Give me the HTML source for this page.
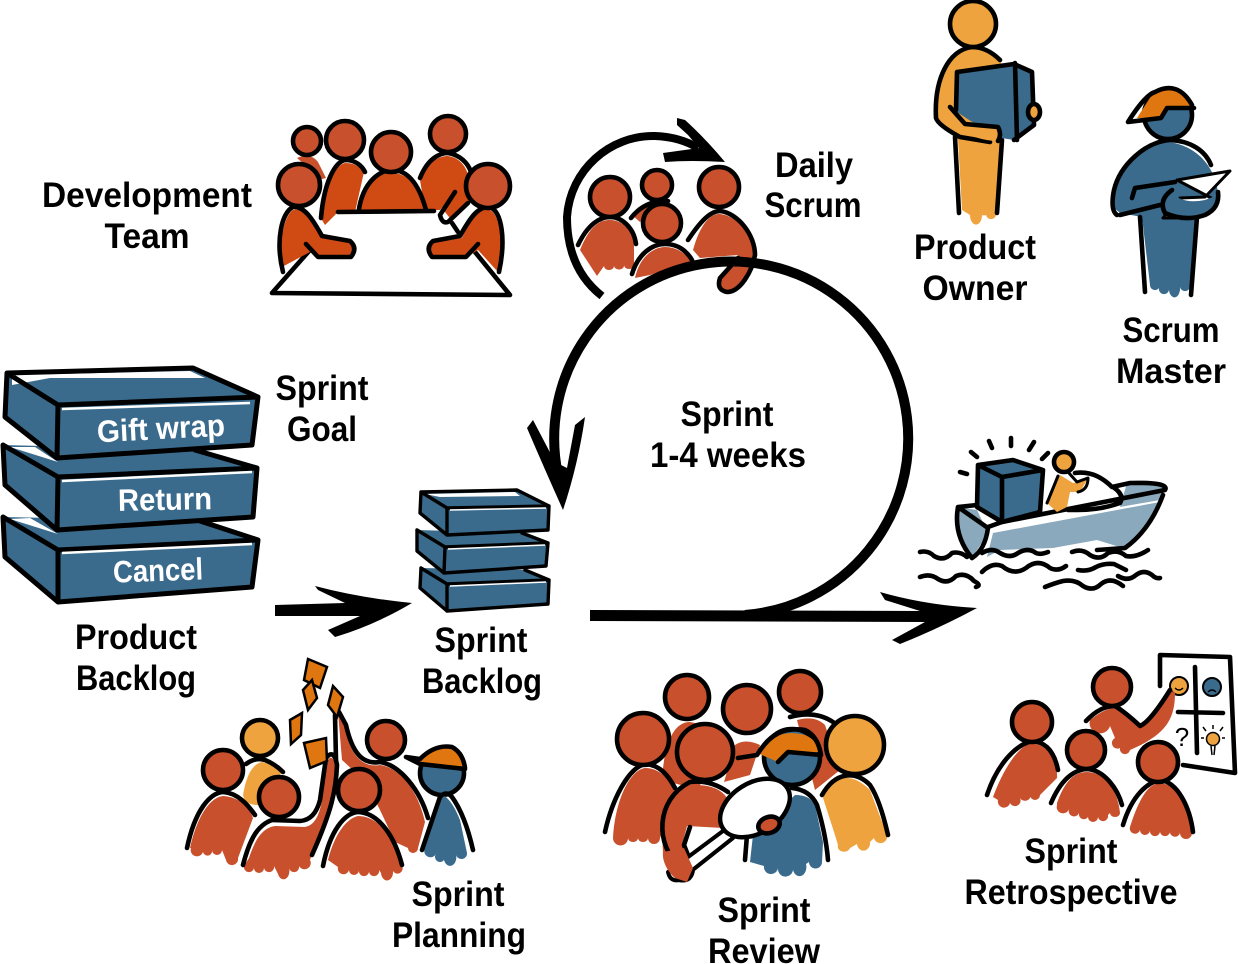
<!DOCTYPE html>
<html><head><meta charset="utf-8"><style>
html,body{margin:0;padding:0;background:#fff}
svg{display:block}
.k{fill:none;stroke:#000;stroke-width:4.6;stroke-linecap:round;stroke-linejoin:round}
.h{stroke:#000;stroke-width:4.6}
.r{fill:#c8502c}.d{fill:#d04a14}.o{fill:#eea33e}.b{fill:#3a6b8c}.c{fill:#e0760f}
.bx{fill:#3a6b8c}
.be{fill:none;stroke:#000;stroke-width:5;stroke-linejoin:round;stroke-linecap:round}
.bs{fill:none;stroke:#000;stroke-width:3.4;stroke-linejoin:round;stroke-linecap:round}
.wl{fill:none;stroke:#fff;stroke-width:2.5}
text{font-family:"Liberation Sans",sans-serif;font-weight:700;font-size:35px;fill:#000;text-anchor:middle}
.w{fill:#fff;font-size:31px}
</style></head><body>
<svg width="1238" height="964" viewBox="0 0 1238 964" xmlns="http://www.w3.org/2000/svg">

<!-- Development team -->
<path class="r" d="M297,158 Q310,152 318,162 L326,178 L318,180 L305,165Z"/>
<circle class="r h" cx="307" cy="141" r="14"/>
<path class="d" d="M322,220 C325,185 335,165 345,163 C358,163 362,170 364,172 L355,212 L337,213 L325,225Z"/>
<path class="k" d="M321,218 C324,182 335,162 345,160 C356,160 362,166 365,172"/>
<circle class="r h" cx="345" cy="140" r="19"/>
<path class="d" d="M420,180 C428,160 440,156 448,156 C462,158 470,170 470,190 L468,205 L448,220 L438,215 L455,192 L440,210 L425,210Z"/>
<path class="k" d="M420,178 C428,158 440,153 448,153 C460,155 468,163 471,172"/>
<circle class="r h" cx="448" cy="134" r="18"/>
<path class="d" d="M358,207 C365,180 380,172 392,173 C410,173 420,190 425,210 L375,211 L385,226 Q385,235 375,234 Q362,230 358,220Z"/>
<path class="k" d="M375,212 L385,226 Q385,236 374,234 Q360,230 358,218 C360,185 378,170 392,170 C410,170 420,188 426,210"/>
<circle class="r h" cx="391" cy="152" r="20"/>
<polygon points="272,293 340,212 445,212 510,293" fill="#fff"/>
<path class="k" d="M338,212 L434,211M272,293 L510,295M272,293 L310,250M510,295 L475,252M452,223 L458,232"/>
<path class="k" d="M440,215 L455,192 M440,215 Q442,224 448,222 L468,203"/>
<path class="d" d="M282,267 C278,240 285,215 293,210 C302,208 310,215 322,238 L350,243 Q355,250 350,255 L315,255 L310,252Z"/>
<path class="k" d="M283,272 C275,240 282,212 293,207 C304,206 312,218 322,236 L350,241 Q358,248 351,257 L318,257 L306,244"/>
<circle class="r h" cx="299" cy="185" r="21"/>
<path class="d" d="M498,272 C505,245 500,215 490,210 C478,208 470,220 462,238 L432,243 Q428,250 433,255 L470,255 L478,250Z"/>
<path class="k" d="M499,272 C506,240 502,212 490,207 C478,206 470,218 460,236 L433,241 Q425,248 432,257 L466,257 L478,244"/>
<circle class="r h" cx="488" cy="186" r="22"/>

<!-- Daily Scrum -->
<path class="r" d="M632,215 Q645,200 665,202 L655,212 L640,222Z"/>
<path class="k" d="M631,218 Q645,200 668,201"/>
<circle class="r h" cx="657" cy="185" r="15"/>
<path class="r" d="M580,250 C590,225 600,220 610,220 C625,220 635,235 634,245 L634,265 a5,4 0 0 1 -10,0 a5,4 0 0 1 -10,1 a5,4 0 0 1 -10,0 L597,276Z"/>
<path class="k" d="M578,245 C588,224 600,217 610,217 C622,217 634,228 636,244"/>
<circle class="r h" cx="610" cy="197" r="20"/>
<path class="r" d="M635,278 C640,255 655,247 665,247 C675,247 685,252 692,262 L650,275Z"/>
<path class="k" d="M632,274 C638,254 652,244 665,244 C677,244 686,250 692,260"/>
<circle class="r h" cx="662" cy="223" r="19"/>
<path class="r" d="M693,250 C700,225 710,213 720,214 C738,216 753,235 753,255 C750,270 740,290 727,290 Q718,288 720,280 L738,255 L700,258Z"/>
<path class="k" d="M688,240 C700,222 710,211 720,211 C738,213 755,235 755,255 C752,272 740,292 727,292 Q716,290 720,278 L738,258"/>
<circle class="r h" cx="719" cy="187" r="20"/>
<path d="M602,296 C575,275 567,245 567,217 C570,170 610,135 655,136 Q680,137 698,148" fill="none" stroke="#000" stroke-width="8"/>
<path d="M677,118 L685,120 Q705,138 725,162 Q690,160 665,162 L663,153 L699,148 L688,135 L677,125Z" fill="#000"/>

<!-- Big loop -->
<path d="M745,615 A177,177 0 1 0 558,475" fill="none" stroke="#000" stroke-width="10"/>
<path d="M527,428 L533,420 L555,462 L567,468 L575,425 L585,417 Q578,465 563,510 Q545,470 527,428Z" fill="#000"/>
<path d="M590,610 L920,611 L885,600 L880,592 Q925,605 977,608 Q940,628 900,644 L892,640 L925,622 L590,621Z" fill="#000"/>
<path d="M275,605 L345,603 L318,590 L315,586 Q360,598 412,603 Q375,625 335,637 L328,630 L360,616 L275,616Z" fill="#000"/>

<!-- Product backlog -->
<g>
<polygon class="bx" points="3,517 200,521 258,540 252,587 58,602 3,557"/>
<path d="M10,519 L30,518 L58,534 Z" fill="#fff"/>
<path class="be" d="M3,517 L5,557 L58,602 L58,550 L3,517 M58,550 L258,540 L252,587 L58,602 M200,521 L258,540"/>
<path class="wl" d="M62,553 L252,544"/>
<polygon class="bx" points="3,445 195,450 257,468 253,517 57,530 5,485"/>
<path d="M10,447 L35,447 L58,462 Z" fill="#fff"/>
<path class="be" d="M3,445 L5,485 L57,530 L58,477 L3,445 M58,477 L257,468 L253,517 L57,530 M195,450 L257,468"/>
<path class="wl" d="M62,481 L252,472"/>
<polygon class="bx" points="7,373 193,368 258,397 252,445 57,458 5,417"/>
<path d="M12,375 L190,371 L205,378 L50,378 L12,385 Z" fill="#fff"/>
<path class="be" d="M7,373 L193,368 L258,397 L252,445 L57,458 L58,405 L258,397 M7,373 L5,417 L57,458 M7,373 L58,405"/>
<path class="wl" d="M62,409 L250,403"/>
</g>
<text class="w" x="161" y="439" textLength="128" lengthAdjust="spacingAndGlyphs" transform="rotate(-3 161 430)">Gift wrap</text>
<text class="w" x="165" y="510" textLength="94" lengthAdjust="spacingAndGlyphs" transform="rotate(-1 165 500)">Return</text>
<text class="w" x="158" y="581" textLength="90" lengthAdjust="spacingAndGlyphs" transform="rotate(-2 158 570)">Cancel</text>

<!-- Sprint backlog -->
<polygon class="bx" points="421,568 525,570 549,580 548,604 447,611 420,588"/>
<path class="bs" d="M421,568 L420,588 L447,611 L447,584 L421,568 M447,584 L549,580 L548,604 L447,611 M525,570 L549,580"/>
<path class="wl" style="stroke-width:1.5" d="M450,586 L546,582"/>
<polygon class="bx" points="417,530 522,533 548,543 546,566 444,573 417,551"/>
<path class="bs" d="M417,530 L417,551 L444,573 L445,547 L417,530 M445,547 L548,543 L546,566 L444,573 M522,533 L548,543"/>
<path class="wl" style="stroke-width:1.5" d="M448,549 L545,545"/>
<polygon class="bx" points="421,492 517,490 549,506 548,530 447,535 420,513"/>
<path d="M425,494 L515,492 L520,496 L440,497Z" fill="#fff"/>
<path class="bs" d="M421,492 L517,490 L549,506 L548,530 L447,535 L447,508 L549,506 M421,492 L420,513 L447,535 M421,492 L447,508"/>
<path class="wl" style="stroke-width:1.5" d="M450,510 L546,508"/>

<!-- Product owner -->
<path class="o" d="M936,115 C935,75 950,48 973,48 C985,48 1000,55 1003,68 L1003,140 L1000,140 L996,213 a5,5 0 0 1 -10,2 a5,5 0 0 1 -4,0 a5,8 0 0 1 -12,0 L962,210 L958,140 L945,128 Q936,125 936,115Z"/>
<path class="k" d="M1000,60 C990,50 980,47 972,47 C948,50 934,80 936,118 Q938,125 960,137 L990,142 M955,137 L959,213 M1002,140 L997,213"/>
<circle class="o h" cx="973" cy="24" r="23"/>
<polygon class="b" points="957,72 1014,63 1032,72 1033,125 1014,140 995,137 957,112"/>
<path class="k" d="M957,72 L1014,64 L1032,72 L1034,125 L1014,140 M1015,63 L1017,140 M957,72 L956,110"/>
<path class="o" d="M950,107 L965,122 L1000,128 Q1003,135 1000,141 Q975,142 940,120Z"/>
<path class="k" d="M950,107 L965,124 L998,127 Q1002,135 998,141"/>
<ellipse class="o h" cx="1034" cy="112" rx="6" ry="8"/>

<!-- Scrum master -->
<circle class="b h" cx="1168" cy="115" r="24"/>
<polygon class="c" points="1137,118 1153,93 1177,88 1192,108 1168,108 1162,120"/>
<path class="k" d="M1128,122 L1161,118 L1167,108 L1194,108 M1128,122 Q1145,95 1155,92 Q1178,80 1192,105"/>
<path class="b" d="M1113,207 C1112,175 1135,148 1168,142 C1195,145 1215,165 1218,193 C1218,210 1210,218 1197,217 L1190,285 a5,5 0 0 1 -10,2 a5,8 0 0 1 -11,3 a5,5 0 0 1 -10,-2 a5,5 0 0 1 -9,-3 L1142,217 L1120,213Z"/>
<path class="k" d="M1117,215 Q1110,210 1114,190 C1120,165 1145,142 1170,140 C1190,141 1205,150 1211,165 M1120,215 L1160,205 M1140,217 L1145,292 M1197,217 L1191,295 M1132,198 L1135,188 L1175,182"/>
<polygon points="1177,180 1230,171 1205,197 1180,198 1163,218 1180,218 1215,200" fill="#fff" stroke="#000" stroke-width="3" stroke-linejoin="round"/>
<path class="b" d="M1170,190 Q1180,205 1205,200 L1218,195 Q1215,215 1195,218 L1165,215 Q1158,200 1170,190Z"/>
<path class="k" d="M1172,190 Q1158,200 1165,213 Q1185,222 1205,215 Q1220,208 1218,192"/>

<!-- Boat -->
<path class="k" d="M960,472 L967,474 M971,452 L977,457 M989,441 L992,448 M1011,438 L1011,446 M1034,442 L1029,450 M1048,453 L1042,459"/>
<polygon points="993,533 1160,502 1143,533 1123,548 1097,540 1053,548 1000,550 987,557" fill="#8ba9bc"/>
<polygon points="1127,483 1165,487 1160,500 1120,507" fill="#8ba9bc"/>
<polygon points="958,507 957,530 972,558 988,533 977,510" fill="#8ba9bc"/>
<path class="k" d="M958,507 Q953,535 972,558 Q985,550 988,528 L958,507 M958,507 L977,505 M988,527 L1002,522 L1165,490 Q1170,482 1130,483 L1112,487 Q1095,470 1075,473 M1163,495 Q1150,530 1125,548 L1097,550 M1113,487 Q1125,495 1120,503 Q1100,510 1078,510 L1068,510"/>
<polygon class="b" points="978,465 1013,460 1043,470 1040,512 1002,522 977,507"/>
<path class="k" d="M978,465 L1013,460 L1043,470 L1040,512 L1002,522 L977,507 Z M978,465 L1002,477 L1043,470 M1002,477 L1002,522"/>
<path class="o" d="M1047,503 L1060,475 L1073,483 L1087,480 L1080,492 L1070,492 L1067,507 L1057,512Z"/>
<path class="k" style="stroke-width:3" d="M1047,503 L1058,476 M1068,472 L1077,482 L1088,478 Q1088,490 1078,492"/>
<circle class="o h" cx="1064" cy="462" r="10"/>
<path class="k" d="M920,552 q8,-2 14,4 q10,6 18,-3 q8,-2 15,4 M920,577 q10,-4 18,2 q10,6 18,-3 q10,-4 18,5 q8,4 2,6 M982,553 q10,-6 18,0 q10,6 18,0 q10,-6 18,0 q4,2 12,-1 M1072,552 q10,-4 18,3 q10,6 18,-2 q10,-4 18,3 q10,2 22,-6 M982,572 q10,-10 20,-6 q12,10 24,2 q12,-10 24,0 q8,4 16,-2 M1045,587 q10,-4 18,-6 q12,-2 20,5 q10,6 18,-2 q10,-8 22,2 M1078,570 q10,2 18,-3 q8,-4 18,-3 q4,2 12,6 M1118,576 q10,6 18,-1 q8,-6 16,0 q4,4 8,3"/>

<!-- Sprint planning -->
<path class="o" d="M243,795 Q248,765 262,762 Q275,765 282,772 L258,805 Q245,805 243,795Z"/>
<path class="k" d="M246,764 Q255,757 265,760 Q275,764 283,772"/>
<circle class="o h" cx="260" cy="738" r="18"/>
<path class="r" d="M190,848 C198,812 212,797 223,796 C240,797 250,808 253,818 L238,858 a6,6 0 0 1 -12,2 L222,850 a5,5 0 0 1 -10,0 a4,4 0 0 1 -9,2 a5,5 0 0 1 -12,-4Z"/>
<path class="k" d="M187,848 C195,810 210,793 223,792 C238,793 248,805 255,815"/>
<circle class="r h" cx="223" cy="770" r="20"/>
<path class="r" d="M338,712 L344,725 C350,755 362,768 380,765 C400,768 418,790 425,822 L418,848 a5,5 0 0 1 -10,0 L395,842 L380,810 L370,790 L355,772 L342,760Z"/>
<path class="k" d="M335,715 L336,760 M339,712 L346,725 C352,752 362,765 380,762 C400,765 420,790 428,818"/>
<circle class="r h" cx="386" cy="740" r="19"/>
<path class="r" d="M249,858 C255,840 262,828 275,826 L305,827 Q318,825 322,800 L327,762 Q332,752 335,765 C335,790 330,815 315,845 L310,860 a5,5 0 0 1 -11,6 a5,5 0 0 1 -10,2 a5,7 0 0 1 -11,6 l-4,-8 a5,5 0 0 1 -10,2 a5,5 0 0 1 -10,0 a5,5 0 0 1 -10,-2Z"/>
<path class="k" d="M243,865 C250,838 258,825 272,820 L300,821 Q315,820 320,800 L326,758 Q334,748 337,765 C336,790 332,810 312,855"/>
<circle class="r h" cx="279" cy="797" r="20"/>
<path class="r" d="M328,860 C335,832 348,818 358,816 C380,816 395,840 402,866 a5,5 0 0 1 -9,5 a5,7 0 0 1 -12,2 l-2,-3 a5,5 0 0 1 -10,2 a5,5 0 0 1 -10,-2 a5,5 0 0 1 -10,0 a5,5 0 0 1 -11,-3Z"/>
<path class="k" d="M323,866 C330,830 345,813 358,812 C380,813 395,838 402,865"/>
<circle class="r h" cx="359" cy="790" r="21"/>
<circle class="b h" cx="442" cy="773" r="22"/>
<path class="c" d="M420,760 Q435,745 452,749 Q462,755 464,767 L420,765Z"/>
<path class="k" d="M406,757 L420,764 L465,769 M406,757 L420,759 Q435,744 452,747 Q463,753 465,768"/>
<path class="b" d="M425,848 L443,795 Q452,800 460,820 L467,853 a5,5 0 0 1 -11,1 a5,7 0 0 1 -12,6 a5,5 0 0 1 -8,-6 a5,5 0 0 1 -11,-6Z"/>
<path class="k" d="M422,850 L440,797 Q446,790 452,797 Q465,815 473,850"/>
<polygon class="c" points="308,659 327,667 320,688 304,680" stroke="#000" stroke-width="2.5"/>
<polygon class="c" points="312,680 317,698 308,710 303,690" stroke="#000" stroke-width="2.5"/>
<polygon class="c" points="333,686 343,697 337,717 328,705" stroke="#000" stroke-width="2.5"/>
<polygon class="c" points="302,713 290,720 291,744 301,735" stroke="#000" stroke-width="2.5"/>
<polygon class="c" points="304,743 326,738 327,761 310,768" stroke="#000" stroke-width="2.5"/>

<!-- Sprint review -->
<path class="r" d="M662,780 C665,730 680,722 690,722 L705,725 L700,790Z"/>
<circle class="r h" cx="687" cy="697" r="22"/>
<path class="r" d="M797,720 Q815,715 825,725 L840,770 L815,790Z"/>
<path class="k" d="M790,717 Q815,710 833,722"/>
<circle class="r h" cx="800" cy="692" r="21"/>
<path class="r" d="M724,782 L735,745 Q745,738 760,745 L750,775Z"/>
<circle class="r h" cx="747" cy="709" r="24"/>
<path class="r" d="M613,838 C615,800 630,770 645,768 C660,768 670,780 675,790 L660,838 a5,5 0 0 1 -12,0 a5,4 0 0 1 -10,0 a5,4 0 0 1 -10,0 a6,6 0 0 1 -15,0Z"/>
<path class="k" d="M605,832 C612,800 628,768 645,764 C660,765 668,775 675,788"/>
<circle class="r h" cx="643" cy="739" r="26"/>
<path class="o" d="M823,798 C835,770 855,775 870,790 L887,835 a6,6 0 0 1 -13,3 L870,842 a6,7 0 0 1 -13,2 L850,848 a6,5 0 0 1 -12,-3 L835,835Z"/>
<path class="k" d="M822,795 C835,772 855,770 870,785 Q880,800 888,835"/>
<circle class="o h" cx="855" cy="745" r="29"/>
<circle class="b h" cx="792" cy="757" r="28"/>
<path class="c" d="M757,753 C770,735 785,730 805,735 Q817,740 820,752 L788,752 L778,762Z"/>
<path class="k" d="M738,758 L757,755 C770,733 785,727 805,730 Q818,736 821,755 L788,752 L778,762"/>
<path class="b" d="M750,862 L753,835 L795,795 Q810,795 815,805 L823,842 L822,862 a6,6 0 0 1 -13,0 l-3,2 a6,8 0 0 1 -13,6 a6,6 0 0 1 -15,-2 a5,5 0 0 1 -14,-2Z"/>
<path class="k" d="M745,860 L747,835 M792,788 Q810,790 817,805 Q826,835 828,860"/>
<path class="r" d="M663,852 C660,800 680,785 695,785 C712,785 722,790 727,798 L723,828 L687,826 L682,845 L693,868 L687,882 L673,878Z"/>
<path class="k" d="M680,867 C655,845 655,800 690,782 C705,780 718,785 728,792 M690,827 L684,845 L693,868 Q692,882 680,880"/>
<circle class="r h" cx="705" cy="752" r="28"/>
<path d="M668,872 L727,828 L733,838 L680,880 Q670,882 668,872Z" fill="#fff" stroke="#000" stroke-width="4" stroke-linejoin="round"/>
<path class="r" d="M663,852 C662,862 668,872 675,878 L687,882 L693,868 L684,848Z"/>
<ellipse cx="755" cy="808" rx="38" ry="25" transform="rotate(-32 755 808)" fill="#fff" stroke="#000" stroke-width="4.5"/>
<ellipse class="r h" cx="769" cy="825" rx="11" ry="8" transform="rotate(-20 769 825)"/>

<!-- Sprint retrospective -->
<path class="k" d="M1160,655 L1230,657 L1235,773 L1183,765 M1160,655 L1160,686 M1195,667 L1197,753 M1178,712 L1223,713"/>
<circle cx="1179" cy="686" r="9" fill="#eea33e" stroke="#000" stroke-width="2"/>
<path d="M1175,688 Q1179,692 1183,688" fill="none" stroke="#000" stroke-width="1.3"/>
<circle cx="1212" cy="687" r="9" fill="#3a6b8c" stroke="#000" stroke-width="2"/>
<path d="M1208,692 Q1212,688 1216,692" fill="none" stroke="#000" stroke-width="1.3"/>
<text x="1182" y="746" style="font-size:26px;font-weight:400">?</text>
<circle cx="1213" cy="739" r="6.5" fill="#eea33e" stroke="#000" stroke-width="1.5"/>
<path fill="none" stroke="#000" stroke-width="1.5" d="M1211,746 L1212,755 M1215,746 L1214,755 M1203,727 L1206,731 M1213,725 L1213,729 M1223,727 L1220,731 M1201,738 L1204,738 M1222,738 L1225,738"/>
<path class="r" d="M1090,720 Q1105,708 1115,708 L1140,727 L1170,690 L1175,693 C1175,720 1165,735 1130,750 a5,5 0 0 1 -10,-2 a5,5 0 0 1 -5,-10 l-5,-12 a5,5 0 0 1 -20,-6Z"/>
<path class="k" d="M1086,721 Q1100,706 1115,706 Q1125,712 1140,726 Q1150,722 1170,690"/>
<circle class="r h" cx="1112" cy="687" r="19"/>
<path class="r" d="M993,797 C1005,765 1020,745 1032,743 C1050,745 1058,765 1057,778 L1040,795 a5,5 0 0 1 -10,0 a5,4 0 0 1 -10,3 a5,5 0 0 1 -10,5 a5,5 0 0 1 -12,-3Z"/>
<path class="k" d="M987,795 C997,765 1015,745 1032,741 C1048,742 1055,755 1058,770"/>
<circle class="r h" cx="1032" cy="722" r="20"/>
<path class="r" d="M1057,803 C1065,780 1075,772 1087,772 C1105,772 1118,790 1120,813 a5,4 0 0 1 -10,0 l-2,2 a5,5 0 0 1 -10,2 a5,5 0 0 1 -10,0 a5,5 0 0 1 -9,-4 a5,5 0 0 1 -10,-4 a5,5 0 0 1 -12,-4Z"/>
<path class="k" d="M1051,803 C1060,782 1072,770 1087,769 C1105,770 1118,790 1122,805"/>
<circle class="r h" cx="1086" cy="750" r="19"/>
<path class="r" d="M1130,827 C1140,795 1150,783 1160,783 C1180,785 1190,810 1192,833 a5,5 0 0 1 -12,0 a5,5 0 0 1 -10,-3 a5,5 0 0 1 -10,2 a5,5 0 0 1 -10,-2 a5,5 0 0 1 -10,0 a5,5 0 0 1 -10,-3Z"/>
<path class="k" d="M1123,825 C1132,795 1148,782 1160,780 C1178,782 1190,808 1193,832"/>
<circle class="r h" cx="1158" cy="762" r="20"/>

<!-- Labels -->
<text x="147" y="207" textLength="210" lengthAdjust="spacingAndGlyphs">Development</text>
<text x="147" y="248" textLength="85" lengthAdjust="spacingAndGlyphs">Team</text>
<text x="814" y="177" textLength="78" lengthAdjust="spacingAndGlyphs">Daily</text>
<text x="813" y="217" textLength="97" lengthAdjust="spacingAndGlyphs">Scrum</text>
<text x="975" y="259" textLength="122" lengthAdjust="spacingAndGlyphs">Product</text>
<text x="975" y="300" textLength="105" lengthAdjust="spacingAndGlyphs">Owner</text>
<text x="1171" y="342" textLength="97" lengthAdjust="spacingAndGlyphs">Scrum</text>
<text x="1171" y="383" textLength="110" lengthAdjust="spacingAndGlyphs">Master</text>
<text x="322" y="400" textLength="93" lengthAdjust="spacingAndGlyphs">Sprint</text>
<text x="322" y="441" textLength="70" lengthAdjust="spacingAndGlyphs">Goal</text>
<text x="727" y="426" textLength="93" lengthAdjust="spacingAndGlyphs">Sprint</text>
<text x="728" y="467" textLength="156" lengthAdjust="spacingAndGlyphs">1-4 weeks</text>
<text x="136" y="649" textLength="122" lengthAdjust="spacingAndGlyphs">Product</text>
<text x="136" y="690" textLength="120" lengthAdjust="spacingAndGlyphs">Backlog</text>
<text x="481" y="652" textLength="93" lengthAdjust="spacingAndGlyphs">Sprint</text>
<text x="482" y="693" textLength="120" lengthAdjust="spacingAndGlyphs">Backlog</text>
<text x="458" y="906" textLength="93" lengthAdjust="spacingAndGlyphs">Sprint</text>
<text x="459" y="947" textLength="134" lengthAdjust="spacingAndGlyphs">Planning</text>
<text x="764" y="922" textLength="93" lengthAdjust="spacingAndGlyphs">Sprint</text>
<text x="764" y="963" textLength="112" lengthAdjust="spacingAndGlyphs">Review</text>
<text x="1071" y="863" textLength="93" lengthAdjust="spacingAndGlyphs">Sprint</text>
<text x="1071" y="904" textLength="213" lengthAdjust="spacingAndGlyphs">Retrospective</text>
</svg>
</body></html>
